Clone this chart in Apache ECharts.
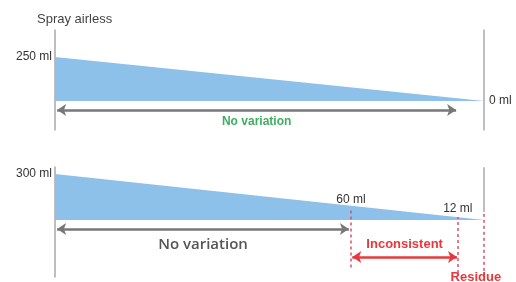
<!DOCTYPE html>
<html><head><meta charset="utf-8">
<script src="https://cdn.jsdelivr.net/npm/echarts@6/dist/echarts.min.js"></script>
<style>html,body{margin:0;padding:0;background:#fff}#c{width:516px;height:282px}</style>
</head><body><div id="c"></div>
<script>
// ---- data ----
const titleText = 'Spray airless';
const progress = [0, 100];               // % of dispensing
const topVolumes = [250, 0];             // ml, airless pack
const bottomVolumes = [300, 0];          // ml, standard pack
const topTicks = [250, 0];               // labelled volumes (left, right)
const bottomTicks = [300];
const thresholdProgress = [69, 93.9];    // where 60 ml and 12 ml are reached
const thresholdLabels = ['60 ml', '12 ml'];
const phaseLabels = ['No variation', 'Inconsistent', 'Residue'];

const FILL = '#8dc1ea', AX = '#a9a9a9', RED = '#e8383d', GREEN = '#3fae5f', GRAY = '#777', DASH = '#d9506a';
const F = 'Liberation Sans, Arial, sans-serif';

const chart = echarts.init(document.getElementById('c'), null, {renderer: 'canvas'});
const ml = v => v + ' ml';
const baseY = (grid, min, max, pos, ticks) => ({
  type: 'value', gridIndex: grid, min, max, position: pos,
  axisLine: {show: true, lineStyle: {color: AX, width: 1.5}},
  axisTick: {show: false}, splitLine: {show: false},
  axisLabel: {show: true, customValues: ticks, formatter: ml, color: '#333', fontSize: 12, fontFamily: F, margin: pos === 'left' ? 3 : 5}
});

chart.setOption({
  animation: false,
  title: {text: titleText, left: 37, top: 13, padding: 0, textStyle: {fontSize: 13, fontWeight: 'normal', color: '#444', fontFamily: F}},
  grid: [
    {left: 55, right: 32, top: 30, height: 100},
    {left: 55, right: 32, top: 167, height: 110}
  ],
  xAxis: [
    {type: 'value', gridIndex: 0, min: 0, max: 100, show: false},
    {type: 'value', gridIndex: 1, min: 0, max: 100, show: false}
  ],
  yAxis: [
    baseY(0, -165, 403, 'left', [topTicks[0]]),
    baseY(0, -165, 403, 'right', [topTicks[1]]),
    baseY(1, -372, 346, 'left', bottomTicks)
  ],
  series: [
    {
      type: 'line', xAxisIndex: 0, yAxisIndex: 0, symbol: 'none', silent: true, clip: false,
      data: progress.map((p, i) => [p, topVolumes[i]]),
      lineStyle: {width: 0}, areaStyle: {color: FILL, opacity: 1},
      markLine: {
        silent: true, symbol: ['arrow', 'arrow'], symbolSize: 9,
        data: [[
          {coord: [0.5, -51], lineStyle: {color: GRAY, width: 2.5, type: 'solid'},
           label: {show: true, formatter: phaseLabels[0], position: 'insideMiddleBottom', distance: 6, color: GREEN, fontWeight: 'bold', fontSize: 12, fontFamily: F}},
          {coord: [93.5, -51]}
        ]]
      }
    },
    {
      type: 'line', xAxisIndex: 1, yAxisIndex: 2, symbol: 'none', silent: true, clip: false,
      data: progress.map((p, i) => [p, bottomVolumes[i]]),
      lineStyle: {width: 0}, areaStyle: {color: FILL, opacity: 1},
      markLine: {
        silent: true, symbol: ['none', 'none'], symbolSize: 9,
        data: [
          [
            {coord: [0.5, -59], symbol: 'arrow', lineStyle: {color: GRAY, width: 2.5, type: 'solid'},
             label: {show: true, formatter: phaseLabels[0], position: 'insideMiddleBottom', distance: 8, color: '#555', fontWeight: 600, fontSize: 15, fontFamily: 'Open Sans, sans-serif'}},
            {coord: [thresholdProgress[0] - 0.5, -59], symbol: 'arrow'}
          ],
          [
            {coord: [thresholdProgress[0] + 0.3, -241], symbol: 'arrow', lineStyle: {color: RED, width: 2.5, type: 'solid'},
             label: {show: true, formatter: phaseLabels[1], position: 'insideMiddleTop', distance: 6, color: RED, fontWeight: 'bold', fontSize: 13, fontFamily: F}},
            {coord: [thresholdProgress[1] - 0.2, -241], symbol: 'arrow'}
          ],
          [
            {coord: [thresholdProgress[0], -310], lineStyle: {color: DASH, width: 1.5, type: [3, 3]},
             label: {show: true, formatter: thresholdLabels[0], position: 'end', distance: 2, color: '#333', fontSize: 12, fontFamily: F}},
            {coord: [thresholdProgress[0], 80]}
          ],
          [
            {coord: [thresholdProgress[1], -346], lineStyle: {color: DASH, width: 1.5, type: [3, 3]},
             label: {show: true, formatter: thresholdLabels[1], position: 'end', distance: 2, color: '#333', fontSize: 12, fontFamily: F}},
            {coord: [thresholdProgress[1], 20]}
          ],
          [
            {coord: [100, 52], lineStyle: {color: AX, width: 1.5, type: 'solid'}, label: {show: false}},
            {coord: [100, 345]}
          ],
          [
            {coord: [100, -371], lineStyle: {color: DASH, width: 1.5, type: [3, 3]}, label: {show: false}},
            {coord: [100, 52]}
          ]
        ]
      },
      markPoint: {
        silent: true, symbol: 'circle', symbolSize: 1, itemStyle: {color: 'rgba(0,0,0,0)'},
        data: [{coord: [98.1, -360], label: {show: true, position: 'inside', offset: [0, 2], formatter: phaseLabels[2], color: RED, fontWeight: 'bold', fontSize: 13, fontFamily: F}}]
      }
    }
  ]
});
</script></body></html>
